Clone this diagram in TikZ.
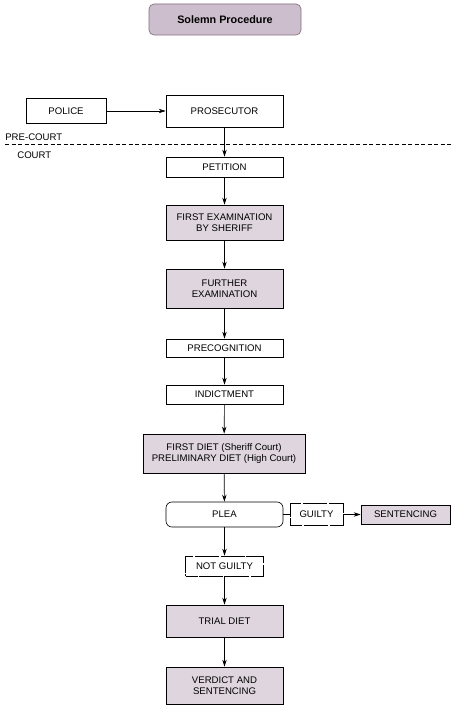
\documentclass[tikz,border=0pt]{standalone}
\usepackage{fontspec}
\setmainfont{Liberation Sans}
\usetikzlibrary{arrows.meta}
\definecolor{titlefill}{RGB}{204,190,204}
\definecolor{titleline}{RGB}{128,108,128}
\definecolor{stagefill}{RGB}{222,213,222}

\begin{document}
\begin{tikzpicture}
[x = 1pt, y = -1pt, font = \fontsize{9.6}{11.2}\selectfont,
 every node/.style = {shape = rectangle, draw, align = center, inner sep = 0pt, line width = 0.65pt},
 stage/.style = {fill = stagefill},
 open/.style = {dash pattern = on 24pt off 1.8pt, dash phase = 12pt},
 flow/.style = {-{Stealth[length = 7pt, width = 4.4pt]}, line width = 0.65pt}]
\useasboundingbox (0,0) rectangle (454,709);

\node[fill = titlefill, draw = titleline, rounded corners = 5pt, minimum width = 152pt, minimum height = 31pt, font = \fontsize{10.8}{12}\selectfont\bfseries] (title) at (225,19.5) {Solemn Procedure};

\node[minimum width = 80pt, minimum height = 25pt] (police) at (66,111) {POLICE};
\node[minimum width = 117pt, minimum height = 32pt] (prosecutor) at (224.5,111) {PROSECUTOR};

% pre-court / court split
\draw[dash pattern = on 4pt off 2.5pt, line width = 0.65pt] (5,144.5) -- (454,144.5);
\node[draw = none, anchor = west] (precourt) at (5,137) {PRE-COURT};
\node[draw = none, anchor = west] (court) at (17,155) {COURT};

\node[minimum width = 117pt, minimum height = 20pt] (petition) at (224.5,167) {PETITION};
\node[stage, minimum width = 117pt, minimum height = 35pt] (exam) at (224.5,222.5) {FIRST EXAMINATION\\BY SHERIFF};
\node[stage, minimum width = 117pt, minimum height = 39pt] (furtherexam) at (224.5,288.5) {FURTHER\\EXAMINATION};
\node[minimum width = 117pt, minimum height = 18pt] (precog) at (224.5,348) {PRECOGNITION};
\node[minimum width = 117pt, minimum height = 19pt] (indictment) at (224.5,394.5) {INDICTMENT};
\node[stage, minimum width = 162pt, minimum height = 39pt] (diet) at (224,453.5) {FIRST DIET (Sheriff Court)\\PRELIMINARY DIET (High Court)};
\node[rounded corners = 6pt, minimum width = 117pt, minimum height = 25pt] (plea) at (224.5,514.5) {PLEA};
\node[open, minimum width = 53pt, minimum height = 22pt] (guilty) at (316.5,514.5) {GUILTY};
\node[stage, minimum width = 89pt, minimum height = 19pt] (sentencing) at (405.5,514.5) {SENTENCING};
\node[open, minimum width = 78pt, minimum height = 20pt] (notguilty) at (224.5,566) {NOT GUILTY};
\node[stage, minimum width = 117pt, minimum height = 32pt] (trial) at (224.5,621) {TRIAL DIET};
\node[stage, minimum width = 117pt, minimum height = 37pt] (verdict) at (224.5,685.5) {VERDICT AND\\SENTENCING};

\draw[flow] (police) -- (prosecutor);
\draw[flow] (prosecutor) -- (petition);
\draw[flow] (petition) -- (exam);
\draw[flow] (exam) -- (furtherexam);
\draw[flow] (furtherexam) -- (precog);
\draw[flow] (precog) -- (indictment);
\draw[flow] (indictment) -- (diet);
\draw[flow] (diet) -- (plea);
\draw[line width = 0.65pt] (plea) -- (guilty);
\draw[flow] (guilty) -- (sentencing);
\draw[flow] (plea) -- (notguilty);
\draw[flow] (notguilty) -- (trial);
\draw[flow] (trial) -- (verdict);
\end{tikzpicture}
\end{document}
